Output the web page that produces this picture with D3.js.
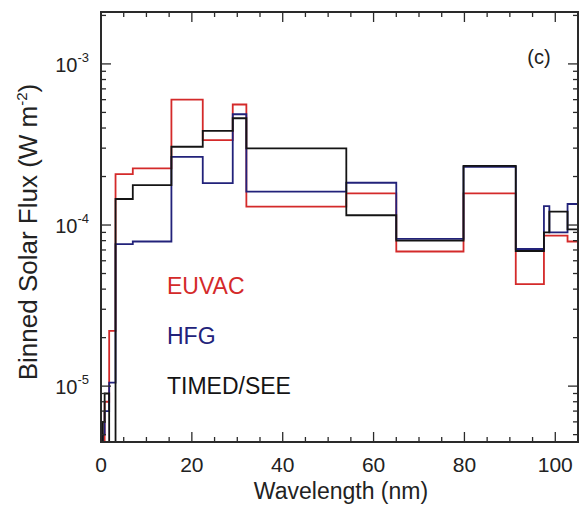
<!DOCTYPE html>
<html>
<head>
<meta charset="utf-8">
<script src="https://cdn.jsdelivr.net/npm/d3@7"></script>
<style>
  body { margin: 0; background: #fff; }
  svg text { font-family: "Liberation Sans", Arial, sans-serif; }
</style>
</head>
<body>
<script>
// bin edges in nm (lower edges, last entry is the upper edge of the last bin)
var binEdges = [0.05, 0.4, 0.8, 1.8, 3.2, 7.0, 15.5, 22.4, 29.0, 32.0, 54.0, 65.0, 79.8, 91.3, 97.5, 98.7, 102.7, 105.0];

// binned flux, W m^-2, one value per bin
var euvac = [1e-6, 2e-6, 8e-6, 2.2e-5, 2.07e-4, 2.25e-4, 6.0e-4, 3.36e-4, 5.6e-4, 1.30e-4, 1.57e-4, 6.85e-5, 1.57e-4, 4.3e-5, 8.6e-5, 8.6e-5, 7.9e-5];
var hfg   = [1e-6, 5e-6, 7e-6, 1.05e-5, 7.6e-5, 7.9e-5, 2.65e-4, 1.82e-4, 4.87e-4, 1.61e-4, 1.83e-4, 8.2e-5, 2.3e-4, 7.1e-5, 1.31e-4, 9.0e-5, 1.35e-4];
var timed = [1e-6, 6e-6, 9e-6, 3e-6, 1.45e-4, 1.77e-4, 3.06e-4, 3.84e-4, 4.6e-4, 2.99e-4, 1.15e-4, 8.0e-5, 2.33e-4, 6.9e-5, 9.0e-5, 1.21e-4, 9.4e-5];

var seriesNames = ["EUVAC", "HFG", "TIMED/SEE"];
var seriesColors = ["#d42a2a", "#22227a", "#141414"];
var seriesData = [euvac, hfg, timed];

var xTicks = [0, 20, 40, 60, 80, 100];
var yTicks = [1e-3, 1e-4, 1e-5];
var yExps = ["-3", "-4", "-5"];

var W = 581, H = 505;
// plot box (note: "top" is reserved on window, so use pLeft etc.)
var pLeft = 101, pRight = 578, pTop = 12, pBottom = 442;

var svg = d3.select("body").append("svg")
  .attr("width", W).attr("height", H);

var x = d3.scaleLinear().domain([0, 105]).range([pLeft, pRight]);
var y = d3.scaleLog().domain([4.5e-6, 2.1e-3]).range([pBottom, pTop]);

svg.append("clipPath").attr("id", "plotclip")
  .append("rect")
  .attr("x", pLeft).attr("y", pTop)
  .attr("width", pRight - pLeft).attr("height", pBottom - pTop);

// step lines
var line = d3.line()
  .x(function(d) { return x(d[0]); })
  .y(function(d) { return y(d[1]); })
  .curve(d3.curveStepAfter);

var plot = svg.append("g").attr("clip-path", "url(#plotclip)");
seriesData.forEach(function(vals, k) {
  var pts = vals.map(function(v, i) { return [binEdges[i], v]; });
  pts.push([binEdges[binEdges.length - 1], vals[vals.length - 1]]);
  // start from below the frame
  pts.unshift([binEdges[0], 1e-7]);
  plot.append("path")
    .datum(pts)
    .attr("fill", "none")
    .attr("stroke", seriesColors[k])
    .attr("stroke-width", 1.8)
    .attr("d", line);
});

// ticks (inward, mirrored)
var axisColor = "#2a2a2a";
var ticksG = svg.append("g").attr("stroke", axisColor).attr("stroke-width", 1.3);
d3.range(0, 106, 5).forEach(function(v) {
  var len = (v % 20 === 0) ? 10 : 5;
  ticksG.append("line").attr("x1", x(v)).attr("x2", x(v)).attr("y1", pBottom).attr("y2", pBottom - len);
  ticksG.append("line").attr("x1", x(v)).attr("x2", x(v)).attr("y1", pTop).attr("y2", pTop + len);
});
var minorY = [];
[-6, -5, -4, -3].forEach(function(e) {
  d3.range(1, 10).forEach(function(m) { minorY.push([m * Math.pow(10, e), m === 1]); });
});
minorY.forEach(function(t) {
  var v = t[0];
  if (v < y.domain()[0] || v > y.domain()[1]) return;
  var len = t[1] ? 10 : 5;
  ticksG.append("line").attr("x1", pLeft).attr("x2", pLeft + len).attr("y1", y(v)).attr("y2", y(v));
  ticksG.append("line").attr("x1", pRight).attr("x2", pRight - len).attr("y1", y(v)).attr("y2", y(v));
});

// frame
svg.append("rect")
  .attr("x", pLeft).attr("y", pTop)
  .attr("width", pRight - pLeft).attr("height", pBottom - pTop)
  .attr("fill", "none").attr("stroke", axisColor).attr("stroke-width", 2);

// x tick labels
svg.selectAll(".xlab").data(xTicks).enter().append("text")
  .attr("class", "xlab")
  .attr("x", function(d) { return x(d); })
  .attr("y", 472)
  .attr("text-anchor", "middle")
  .attr("font-size", 21)
  .attr("fill", "#222")
  .text(function(d) { return d; });

// y tick labels 10^n
yTicks.forEach(function(v, i) {
  var t = svg.append("text")
    .attr("x", 89).attr("y", y(v) + 8)
    .attr("text-anchor", "end")
    .attr("font-size", 20)
    .attr("fill", "#222");
  t.append("tspan").text("10");
  t.append("tspan").attr("font-size", 13).attr("dy", -10).text(yExps[i]);
});

// axis titles
svg.append("text")
  .attr("x", 341).attr("y", 499)
  .attr("text-anchor", "middle")
  .attr("font-size", 23)
  .attr("fill", "#222")
  .text("Wavelength (nm)");

var yt = svg.append("text")
  .attr("transform", "translate(37,232) rotate(-90)")
  .attr("text-anchor", "middle")
  .attr("font-size", 26)
  .attr("fill", "#222");
yt.append("tspan").text("Binned Solar Flux (W m");
yt.append("tspan").attr("font-size", 15).attr("dy", -10).text("-2");
yt.append("tspan").attr("dy", 10).text(")");

// panel label
svg.append("text")
  .attr("x", 539).attr("y", 64)
  .attr("text-anchor", "middle")
  .attr("font-size", 20)
  .attr("fill", "#222")
  .text("(c)");

// legend
seriesNames.forEach(function(name, k) {
  svg.append("text")
    .attr("x", 167).attr("y", 294 + k * 50)
    .attr("font-size", 23)
    .attr("fill", seriesColors[k])
    .text(name);
});
</script>
</body>
</html>
